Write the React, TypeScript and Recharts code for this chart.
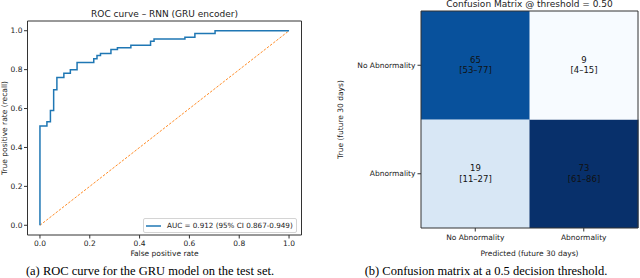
import { ComposedChart, Line, XAxis, YAxis, Legend, BarChart, Bar, Cell, LabelList } from 'recharts'

// ROC curve (step points: fpr, tpr at the top of each vertical jump)
const rocFpr = [0, 0, 0.028, 0.042, 0.055, 0.068, 0.096, 0.122, 0.149, 0.216, 0.229, 0.243, 0.285, 0.311, 0.365, 0.444, 0.458, 0.582, 0.622, 0.703, 1.0]
const rocTpr = [0, 0.51, 0.532, 0.59, 0.697, 0.76, 0.782, 0.80, 0.837, 0.856, 0.873, 0.883, 0.903, 0.913, 0.925, 0.946, 0.958, 0.967, 0.986, 1.0, 1.0]
const chanceFpr = [0, 1]
const chanceTpr = [0, 1]
const rocTicks = [0, 0.2, 0.4, 0.6, 0.8, 1.0]
const aucLabel = 'AUC = 0.912 (95% CI 0.867-0.949)'

// confusion matrix: columns = predicted class, rows = true class
const classes = ['No Abnormality', 'Abnormality']
const rowNoCounts = [65, 9]
const rowNoCI = ['[53–77]', '[4–15]']
const rowAbCounts = [19, 73]
const rowAbCI = ['[11–27]', '[61–86]']

const rocData = rocFpr.map((f, i) => ({ fpr: f, tpr: rocTpr[i] }))
const chanceData = chanceFpr.map((f, i) => ({ fpr: f, tpr: chanceTpr[i] }))
const cmData = classes.map((c, i) => ({
  pred: c,
  abCell: 1,
  noCell: 1,
  abCount: rowAbCounts[i],
  noCount: rowNoCounts[i],
}))

const FONT = 'DejaVu Sans, sans-serif'
const AX = '#333'

const BLUES = ['#f7fbff', '#deebf7', '#c6dbef', '#9ecae1', '#6baed6', '#4292c6', '#2171b5', '#08519c', '#08306b']
const allCounts = [...rowNoCounts, ...rowAbCounts]
const vMin = Math.min(...allCounts)
const vMax = Math.max(...allCounts)

function hex(c: string) {
  return [1, 3, 5].map(k => parseInt(c.slice(k, k + 2), 16))
}
function blues(v: number) {
  const t = Math.max(0, Math.min(1, (v - vMin) / (vMax - vMin))) * (BLUES.length - 1)
  const i = Math.min(Math.floor(t), BLUES.length - 2)
  const f = t - i
  const a = hex(BLUES[i])
  const b = hex(BLUES[i + 1])
  const m = a.map((x, k) => Math.round(x + (b[k] - x) * f))
  return `rgb(${m[0]},${m[1]},${m[2]})`
}

const tickStyle = { fontSize: 7.5, fontFamily: FONT, fill: '#222' }

// plain one-line tick for the matrix rows (no wrapping)
function RowTick(props: any) {
  const { x, y, payload } = props
  return (
    <text x={x} y={y} dy="0.35em" textAnchor="end" fontSize={7.5} fontFamily={FONT} fill="#222">
      {payload.value > 1 ? classes[0] : classes[1]}
    </text>
  )
}

function cellLabel(cis: string[]) {
  return (props: any) => {
    const { x, y, width, height, index, value } = props
    const cx = x + width / 2
    const cy = y + height / 2
    return (
      <text x={cx} textAnchor="middle" fontSize={8.5} fontFamily={FONT} fill="#111">
        <tspan x={cx} y={cy - 2.5}>{value}</tspan>
        <tspan x={cx} y={cy + 8.2}>{cis[index]}</tspan>
      </text>
    )
  }
}

function AucLegend() {
  return (
    <div
      style={{
        display: 'flex',
        alignItems: 'center',
        border: '1px solid #d4d4d4',
        borderRadius: 2,
        background: 'rgba(255,255,255,0.85)',
        height: 13,
        padding: '0 3px 0 1px',
        fontFamily: FONT,
        fontSize: 7.2,
        color: '#222',
        whiteSpace: 'nowrap',
      }}
    >
      <svg width={19} height={6} style={{ marginRight: 3 }}>
        <line x1={1} y1={3} x2={16} y2={3} stroke="#1f77b4" strokeWidth={1.5} />
      </svg>
      {aucLabel}
    </div>
  )
}

export default function App() {
  return (
    <div style={{ position: 'absolute', left: 0, top: 0, width: 640, height: 278, background: '#fff', overflow: 'hidden' }}>
      <div style={{ position: 'absolute', left: 0, top: 0 }}>
        <ComposedChart width={320} height={278} margin={{ top: 20, right: 17.5, bottom: 23, left: 2.5 }}>
          <XAxis
            type="number"
            dataKey="fpr"
            domain={[-0.05, 1.05]}
            ticks={rocTicks}
            tickFormatter={(v: number) => v.toFixed(1)}
            height={20}
            stroke={AX}
            tickSize={3.5}
            tickMargin={2}
            tick={tickStyle}
            allowDataOverflow
          />
          <XAxis xAxisId="top" orientation="top" type="number" domain={[-0.05, 1.05]} height={1} tick={false} tickLine={false} stroke={AX} />
          <YAxis
            type="number"
            domain={[-0.05, 1.05]}
            ticks={rocTicks}
            tickFormatter={(v: number) => v.toFixed(1)}
            width={25}
            stroke={AX}
            tickSize={3.5}
            tickMargin={1.5}
            tick={tickStyle}
            allowDataOverflow
          />
          <YAxis yAxisId="right" orientation="right" type="number" domain={[-0.05, 1.05]} width={1} tick={false} tickLine={false} stroke={AX} />
          <Line
            data={chanceData}
            dataKey="tpr"
            type="linear"
            stroke="#ff7f0e"
            strokeWidth={0.9}
            strokeDasharray="2.5 1.5"
            dot={false}
            legendType="none"
            isAnimationActive={false}
          />
          <Line
            data={rocData}
            dataKey="tpr"
            name={aucLabel}
            type="stepAfter"
            stroke="#1f77b4"
            strokeWidth={1.5}
            dot={false}
            isAnimationActive={false}
          />
          <Legend
            layout="horizontal"
            verticalAlign="middle"
            align="center"
            content={<AucLegend />}
            wrapperStyle={{ left: 143, top: 218, width: 'auto', height: 'auto' }}
          />
        </ComposedChart>
      </div>
      <div style={{ position: 'absolute', left: 320, top: 0 }}>
        <BarChart
          width={320}
          height={278}
          data={cmData}
          margin={{ top: 10, right: 1, bottom: 30, left: 1 }}
          barCategoryGap={0}
          barGap={0}
        >
          <XAxis dataKey="pred" height={20} stroke={AX} tickSize={3.5} tickMargin={3} tick={tickStyle} />
          <XAxis xAxisId="top" orientation="top" dataKey="pred" height={1} tick={false} tickLine={false} stroke={AX} />
          <YAxis
            type="number"
            domain={[0, 2]}
            ticks={[0.5, 1.5]}
            width={100}
            stroke={AX}
            tickSize={3.5}
            tickMargin={2}
            tick={<RowTick />}
          />
          <YAxis yAxisId="right" orientation="right" type="number" domain={[0, 2]} width={1} tick={false} tickLine={false} stroke={AX} />
          <Bar dataKey="abCell" stackId="cm" isAnimationActive={false}>
            {cmData.map((d, i) => (
              <Cell key={i} fill={blues(d.abCount)} />
            ))}
            <LabelList dataKey="abCount" content={cellLabel(rowAbCI)} />
          </Bar>
          <Bar dataKey="noCell" stackId="cm" isAnimationActive={false}>
            {cmData.map((d, i) => (
              <Cell key={i} fill={blues(d.noCount)} />
            ))}
            <LabelList dataKey="noCount" content={cellLabel(rowNoCI)} />
          </Bar>
        </BarChart>
      </div>
      <svg width={640} height={278} style={{ position: 'absolute', left: 0, top: 0, pointerEvents: 'none' }}>
        <g fontFamily={FONT} fill="#222">
          <text x={164.5} y={16.5} fontSize={9} textAnchor="middle">ROC curve – RNN (GRU encoder)</text>
          <text x={164.5} y={255.5} fontSize={7.5} textAnchor="middle">False positive rate</text>
          <text x={7} y={128} fontSize={7.5} textAnchor="middle" transform="rotate(-90 7 128)">True positive rate (recall)</text>
          <text x={529.5} y={7} fontSize={9} textAnchor="middle">Confusion Matrix @ threshold = 0.50</text>
          <text x={529.5} y={255.5} fontSize={7.5} textAnchor="middle">Predicted (future 30 days)</text>
          <text x={342.5} y={119.5} fontSize={7.5} textAnchor="middle" transform="rotate(-90 342.5 119.5)">True (future 30 days)</text>
        </g>
        <g fontFamily="Liberation Serif, Times New Roman, serif" fill="#000" fontSize={12.5}>
          <text x={150} y={274.5} textAnchor="middle">(a) ROC curve for the GRU model on the test set.</text>
          <text x={486} y={274.5} textAnchor="middle">(b) Confusion matrix at a 0.5 decision threshold.</text>
        </g>
      </svg>
    </div>
  )
}
